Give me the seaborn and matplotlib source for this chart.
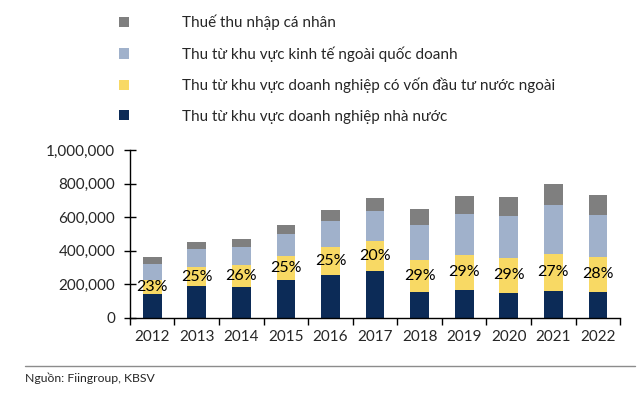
import numpy as np
import pandas as pd
import seaborn as sns
import matplotlib.pyplot as plt
from matplotlib.patches import Patch
from matplotlib.lines import Line2D

years = ["2012", "2013", "2014", "2015", "2016", "2017", "2018", "2019", "2020", "2021", "2022"]
# revenue by sector (stacked, bottom to top)
dn_nha_nuoc = [143000, 190000, 186000, 226000, 256000, 280000, 153000, 165000, 149000, 163000, 155000]
dn_fdi = [83000, 112000, 129000, 143000, 165000, 176000, 192000, 212000, 210000, 220000, 208000]
ngoai_qd = [94000, 107000, 110000, 129000, 158000, 179000, 207000, 240000, 246000, 290000, 250000]
thue_tncn = [41000, 41000, 47000, 56000, 64000, 77000, 95000, 109000, 113000, 125000, 119000]
fdi_share = ["23%", "25%", "26%", "25%", "25%", "20%", "29%", "29%", "29%", "27%", "28%"]

labels = [
    "Thu từ khu vực doanh nghiệp nhà nước",
    "Thu từ khu vực doanh nghiệp có vốn đầu tư nước ngoài",
    "Thu từ khu vực kinh tế ngoài quốc doanh",
    "Thuế thu nhập cá nhân",
]
colors = ["#0c2b57", "#f8d964", "#a0b1cb", "#7f7f7f"]

df = pd.DataFrame({
    "year": years,
    "s0": dn_nha_nuoc,
    "s1": dn_fdi,
    "s2": ngoai_qd,
    "s3": thue_tncn,
})
cum = df[["s0", "s1", "s2", "s3"]].cumsum(axis=1)
cum["year"] = df["year"]

sns.set_style("white")
plt.rcParams["font.family"] = ["Lato", "DejaVu Sans"]

fig = plt.figure(figsize=(6.4, 3.94), dpi=100)
ax = fig.add_axes([0.203, 0.193, 0.766, 0.426])

# draw tallest first so the lower layers sit on top
for col, c in zip(["s3", "s2", "s1", "s0"], colors[::-1]):
    sns.barplot(data=cum, x="year", y=col, color=c, width=0.42,
                saturation=1, ax=ax, linewidth=0)

# FDI share labels in the middle of the yellow segment
mid = (cum["s0"] + cum["s1"]) / 2
for i, (m, t) in enumerate(zip(mid, fdi_share)):
    ax.text(i, m, t, ha="center", va="center", fontsize=11.5, color="black")

ax.set_ylim(0, 1000000)
ax.set_xlim(-0.5, len(years) - 0.5)
ax.set_yticks(np.arange(0, 1000001, 200000))
ax.yaxis.set_major_formatter(plt.FuncFormatter(lambda v, p: f"{int(v):,}"))
ax.set_xlabel("")
ax.set_ylabel("")

for s in ["top", "right"]:
    ax.spines[s].set_visible(False)
for s in ["left", "bottom"]:
    ax.spines[s].set_color("black")
    ax.spines[s].set_linewidth(1.0)

ax.tick_params(axis="y", direction="inout", length=9, width=1, color="black",
               labelsize=11, pad=6, left=True)
ax.tick_params(axis="x", which="major", length=0, labelsize=11, pad=9)
ax.set_xticks(np.arange(-0.5, len(years) + 0.5, 1), minor=True)
ax.tick_params(axis="x", which="minor", direction="out", length=5, width=1,
               color="black", bottom=True)

handles = [Patch(facecolor=c, edgecolor="none") for c in colors][::-1]
fig.legend(handles, labels[::-1], loc="upper left", bbox_to_anchor=(0.186, 0.963),
           frameon=False, fontsize=11, handlelength=0.65, handleheight=0.65,
           handletextpad=3.5, labelspacing=1.06, borderaxespad=0, borderpad=0)

fig.add_artist(Line2D([25 / 640, 635 / 640], [1 - 366 / 394, 1 - 366 / 394],
                      color="#8c8c8c", linewidth=1))
fig.text(25 / 640, 1 - 378 / 394, "Nguồn: Fiingroup, KBSV", fontsize=8.8,
         va="center", ha="left")

fig.savefig("out.png", dpi=100)
